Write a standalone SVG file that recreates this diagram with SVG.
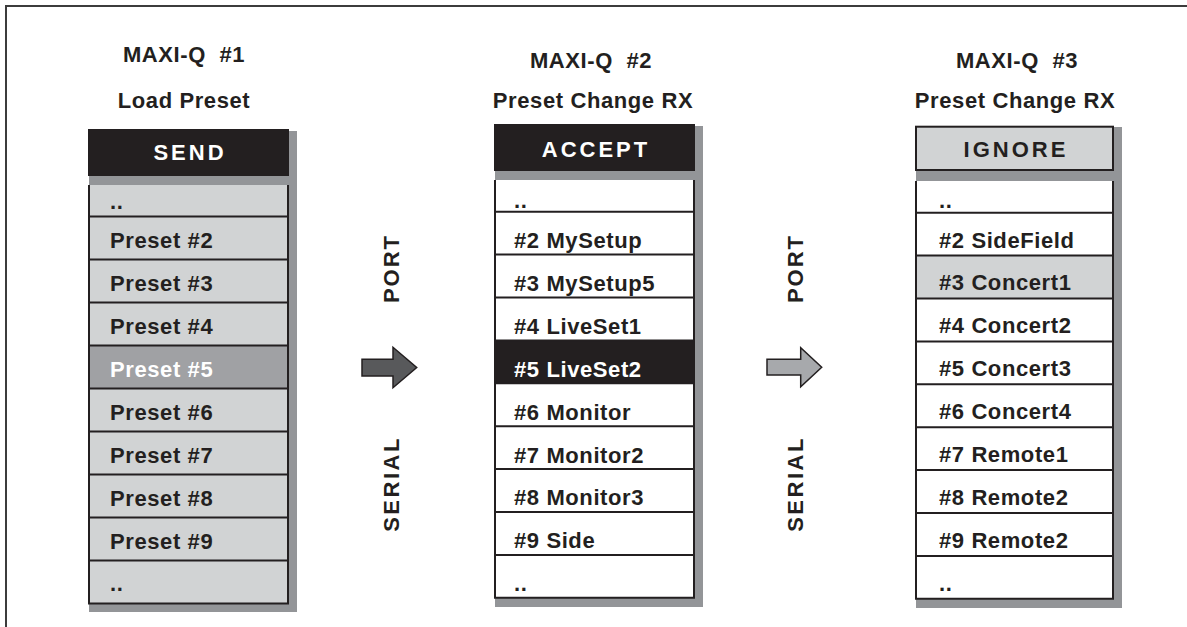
<svg xmlns="http://www.w3.org/2000/svg" width="1187" height="627" viewBox="0 0 1187 627">
<style>
  .t { font-family: "Liberation Sans", Arial, sans-serif; font-weight: bold; fill: #231f20; }
  .head { font-size: 22px; letter-spacing: 0.6px; text-anchor: middle; }
  .hdr { font-size: 22px; letter-spacing: 3px; text-anchor: middle; }
  .row { font-size: 22px; letter-spacing: 0.6px; }
  .vert { font-size: 22px; text-anchor: middle; }
  .w { fill: #ffffff; }
  .shadow { fill: #939598; }
  .edge { fill: none; stroke: #231f20; stroke-width: 2; }
  .sep { stroke: #231f20; stroke-width: 2; }
  .arrow { stroke: #231f20; stroke-width: 1.5; stroke-linejoin: miter; }
</style>
<rect width="1187" height="627" fill="#ffffff"/>
<path d="M6,627 V6 H1187" fill="none" stroke="#3c3c3c" stroke-width="2"/>

<g id="col1">
  <text class="t head" x="184" y="62" xml:space="preserve">MAXI-Q  #1</text>
  <text class="t head" x="184" y="108">Load Preset</text>
  <rect class="shadow" x="89" y="131" width="208" height="481"/>
  <rect x="89" y="130" width="199" height="45" fill="#231f20" stroke="#231f20" stroke-width="2"/>
  <text class="t hdr w" x="190" y="159.5">SEND</text>
  <rect x="89" y="185" width="199" height="418.5" fill="#d1d3d4"/>
  <rect x="89" y="345.5" width="199" height="43" fill="#a0a1a4"/>
  <path class="edge" d="M89,185 V603.5 H288 V185"/>
  <g class="sep">
    <line x1="89" y1="216.5" x2="288" y2="216.5"/>
    <line x1="89" y1="259.5" x2="288" y2="259.5"/>
    <line x1="89" y1="302.5" x2="288" y2="302.5"/>
    <line x1="89" y1="345.5" x2="288" y2="345.5"/>
    <line x1="89" y1="388.5" x2="288" y2="388.5"/>
    <line x1="89" y1="431.5" x2="288" y2="431.5"/>
    <line x1="89" y1="474.5" x2="288" y2="474.5"/>
    <line x1="89" y1="517.5" x2="288" y2="517.5"/>
    <line x1="89" y1="560.5" x2="288" y2="560.5"/>
  </g>
  <text class="t row" x="110" y="208.5">..</text>
  <text class="t row" x="110" y="248.3">Preset #2</text>
  <text class="t row" x="110" y="291.2">Preset #3</text>
  <text class="t row" x="110" y="334.1">Preset #4</text>
  <text class="t row w" x="110" y="377">Preset #5</text>
  <text class="t row" x="110" y="419.9">Preset #6</text>
  <text class="t row" x="110" y="462.8">Preset #7</text>
  <text class="t row" x="110" y="505.7">Preset #8</text>
  <text class="t row" x="110" y="548.6">Preset #9</text>
  <text class="t row" x="110" y="591">..</text>
</g>

<g id="col2">
  <text class="t head" x="591" y="68.3" xml:space="preserve">MAXI-Q  #2</text>
  <text class="t head" x="593" y="108.3">Preset Change RX</text>
  <rect class="shadow" x="495" y="126" width="208" height="481"/>
  <rect x="495" y="125" width="199" height="45" fill="#231f20" stroke="#231f20" stroke-width="2"/>
  <text class="t hdr w" x="596" y="156.7">ACCEPT</text>
  <rect x="495" y="180" width="199" height="417.8" fill="#ffffff"/>
  <rect x="495" y="340.4" width="199" height="42.9" fill="#231f20"/>
  <path class="edge" d="M495,180 V597.8 H694 V180"/>
  <g class="sep">
    <line x1="495" y1="211.7" x2="694" y2="211.7"/>
    <line x1="495" y1="254.6" x2="694" y2="254.6"/>
    <line x1="495" y1="297.5" x2="694" y2="297.5"/>
    <line x1="495" y1="340.4" x2="694" y2="340.4"/>
    <line x1="495" y1="383.3" x2="694" y2="383.3"/>
    <line x1="495" y1="426.2" x2="694" y2="426.2"/>
    <line x1="495" y1="469.1" x2="694" y2="469.1"/>
    <line x1="495" y1="512" x2="694" y2="512"/>
    <line x1="495" y1="554.9" x2="694" y2="554.9"/>
  </g>
  <text class="t row" x="514" y="207.5">..</text>
  <text class="t row" x="514" y="248">#2 MySetup</text>
  <text class="t row" x="514" y="290.9">#3 MySetup5</text>
  <text class="t row" x="514" y="333.8">#4 LiveSet1</text>
  <text class="t row w" x="514" y="376.7">#5 LiveSet2</text>
  <text class="t row" x="514" y="419.6">#6 Monitor</text>
  <text class="t row" x="514" y="462.5">#7 Monitor2</text>
  <text class="t row" x="514" y="505.4">#8 Monitor3</text>
  <text class="t row" x="514" y="548.3">#9 Side</text>
  <text class="t row" x="514" y="590.5">..</text>
</g>

<g id="col3">
  <text class="t head" x="1017" y="68.3" xml:space="preserve">MAXI-Q  #3</text>
  <text class="t head" x="1015" y="108.3">Preset Change RX</text>
  <rect class="shadow" x="916" y="127" width="206" height="481"/>
  <rect x="916" y="126.7" width="197" height="43.3" fill="#d1d3d4" stroke="#231f20" stroke-width="2"/>
  <text class="t hdr" x="1016" y="157.3">IGNORE</text>
  <rect x="916" y="181" width="197" height="417.8" fill="#ffffff"/>
  <rect x="916" y="255.6" width="197" height="42.9" fill="#d1d3d4"/>
  <path class="edge" d="M916,181 V598.8 H1113 V181"/>
  <g class="sep">
    <line x1="916" y1="212.7" x2="1113" y2="212.7"/>
    <line x1="916" y1="255.6" x2="1113" y2="255.6"/>
    <line x1="916" y1="298.5" x2="1113" y2="298.5"/>
    <line x1="916" y1="341.4" x2="1113" y2="341.4"/>
    <line x1="916" y1="384.3" x2="1113" y2="384.3"/>
    <line x1="916" y1="427.2" x2="1113" y2="427.2"/>
    <line x1="916" y1="470.1" x2="1113" y2="470.1"/>
    <line x1="916" y1="513" x2="1113" y2="513"/>
    <line x1="916" y1="555.9" x2="1113" y2="555.9"/>
  </g>
  <text class="t row" x="939" y="207.5">..</text>
  <text class="t row" x="939" y="247.7">#2 SideField</text>
  <text class="t row" x="939" y="290.3">#3 Concert1</text>
  <text class="t row" x="939" y="333.2">#4 Concert2</text>
  <text class="t row" x="939" y="376.1">#5 Concert3</text>
  <text class="t row" x="939" y="419">#6 Concert4</text>
  <text class="t row" x="939" y="461.9">#7 Remote1</text>
  <text class="t row" x="939" y="504.8">#8 Remote2</text>
  <text class="t row" x="939" y="547.7">#9 Remote2</text>
  <text class="t row" x="939" y="590.5">..</text>
</g>

<g id="link1">
  <text class="t vert" transform="translate(399,268.5) rotate(-90)" style="letter-spacing:2px">PORT</text>
  <text class="t vert" transform="translate(399,484) rotate(-90)" style="letter-spacing:2.5px">SERIAL</text>
</g>
<g id="link2">
  <text class="t vert" transform="translate(803,268.5) rotate(-90)" style="letter-spacing:2px">PORT</text>
  <text class="t vert" transform="translate(803,484) rotate(-90)" style="letter-spacing:2.5px">SERIAL</text>
</g>

<g id="connectors">
  <path class="arrow" fill="#58595b" d="M362,359.3 H393 V347.3 L416.7,367.5 L393,387.7 V376 H362 Z"/>
  <path class="arrow" fill="#a7a9ac" d="M767,359.3 H800.7 V347.7 L821.7,367.3 L800.7,386.7 V375 H767 Z"/>
</g>
</svg>
